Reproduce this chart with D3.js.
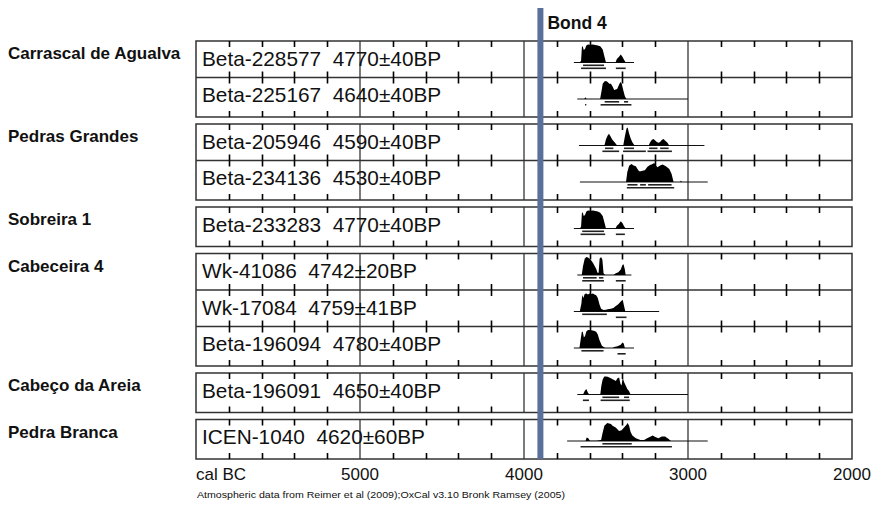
<!DOCTYPE html>
<html>
<head>
<meta charset="utf-8">
<script src="https://cdn.jsdelivr.net/npm/d3@7"></script>
<style>
  body { margin: 0; background: #fff; }
  svg text { font-family: "Liberation Sans", Arial, sans-serif; }
</style>
</head>
<body>
<div id="chart"></div>
<script>
// sites, one box each
const sites = ["Carrascal de Agualva", "Pedras Grandes", "Sobreira 1", "Cabeceira 4", "Cabeço da Areia", "Pedra Branca"];

// dated samples, in plot order
const labCodes = ["Beta-228577", "Beta-225167", "Beta-205946", "Beta-234136", "Beta-233283",
                  "Wk-41086", "Wk-17084", "Beta-196094", "Beta-196091", "ICEN-1040"];
const bpDates = ["4770±40BP", "4640±40BP", "4590±40BP", "4530±40BP", "4770±40BP",
                 "4742±20BP", "4759±41BP", "4780±40BP", "4650±40BP", "4620±60BP"];
const siteOf = [0, 0, 1, 1, 2, 3, 3, 3, 4, 5];

// thin line under each distribution (cal BC from, to)
const spans = [[3696, 3329], [3675, 3000], [3665, 2900], [3659, 2880], [3696, 3329],
               [3675, 3345], [3696, 3176], [3696, 3329], [3675, 3000], [3737, 2880]];

// calibrated probability, [cal BC, relative height]
const dens = [
  [[3660,0],[3652,0.1],[3647,0.85],[3642,0.92],[3636,0.7],[3628,0.75],[3620,0.95],[3610,1],[3595,0.98],[3580,1],[3565,0.97],[3550,0.95],[3535,0.9],[3520,0.72],[3510,0.35],[3500,0],
   [3442,0],[3434,0.2],[3422,0.3],[3410,0.45],[3400,0.32],[3390,0.15],[3380,0]],
  [[3632,0],[3626,0.1],[3618,0],[3536,0],[3528,0.4],[3520,0.85],[3510,0.97],[3500,1],[3490,0.95],[3480,0.85],[3470,0.85],[3460,0.7],[3450,0.5],[3432,0.55],[3420,0.8],[3412,0.95],[3404,0.85],[3395,0.5],[3385,0.15],[3375,0]],
  [[3510,0],[3500,0.35],[3490,0.55],[3482,0.65],[3472,0.5],[3460,0.3],[3445,0.15],[3432,0],[3395,0],[3385,0.5],[3375,0.95],[3368,1],[3360,0.7],[3350,0.4],[3340,0.2],[3330,0.05],[3325,0],
   [3240,0],[3230,0.2],[3220,0.32],[3210,0.36],[3200,0.28],[3190,0.2],[3180,0.15],[3170,0.2],[3160,0.3],[3150,0.36],[3140,0.28],[3125,0.15],[3115,0]],
  [[3378,0],[3370,0.55],[3359,0.9],[3345,1],[3332,0.92],[3318,0.87],[3308,0.72],[3298,0.6],[3288,0.6],[3278,0.62],[3263,0.65],[3247,0.85],[3232,0.95],[3222,0.97],[3206,1.05],[3196,0.92],[3186,0.82],[3170,0.92],[3155,0.97],[3135,0.88],[3114,0.72],[3100,0.45],[3088,0],
   [3048,0],[3043,0.08],[3038,0]],
  [[3660,0],[3652,0.1],[3647,0.85],[3642,0.9],[3636,0.7],[3628,0.75],[3620,0.95],[3610,1],[3595,0.98],[3580,1],[3565,0.97],[3550,0.95],[3535,0.88],[3520,0.7],[3510,0.35],[3500,0],
   [3442,0],[3434,0.15],[3422,0.25],[3410,0.4],[3400,0.3],[3390,0.12],[3380,0]],
  [[3648,0],[3640,0.5],[3630,0.9],[3620,1],[3610,0.97],[3600,0.9],[3590,0.8],[3580,0.68],[3570,0.52],[3560,0.35],[3552,0.12],[3545,0.12],[3539,0.9],[3530,1],[3522,0.85],[3515,0.1],[3505,0],
   [3455,0],[3440,0.1],[3425,0.15],[3410,0.3],[3400,0.55],[3393,0.6],[3385,0.3],[3380,0]],
  [[3660,0],[3650,0.45],[3645,0.92],[3638,0.75],[3630,0.97],[3620,1],[3610,0.95],[3600,1],[3590,0.97],[3580,1],[3570,0.95],[3560,0.9],[3550,0.75],[3540,0.4],[3530,0.15],[3515,0.08],[3500,0.1],[3490,0.12],[3470,0.15],[3455,0.2],[3440,0.3],[3425,0.4],[3410,0.55],[3398,0.65],[3390,0.3],[3382,0]],
  [[3662,0],[3655,0.45],[3648,0.88],[3642,0.92],[3635,0.6],[3628,0.65],[3620,0.92],[3610,1],[3600,1],[3590,0.98],[3580,0.97],[3570,0.95],[3560,0.9],[3550,0.75],[3540,0.45],[3525,0.12],[3505,0],
   [3460,0],[3450,0.05],[3430,0.1],[3410,0.18],[3400,0.3],[3392,0.25],[3385,0]],
  [[3640,0],[3630,0.2],[3620,0.3],[3610,0.1],[3602,0],[3535,0],[3528,0.5],[3520,0.85],[3510,1],[3500,1],[3490,0.98],[3480,0.95],[3470,0.9],[3460,0.85],[3450,0.8],[3440,0.75],[3430,0.9],[3420,0.95],[3412,0.6],[3405,0.5],[3398,0.95],[3390,0.7],[3380,0.5],[3370,0.3],[3360,0.2],[3350,0]],
  [[3625,0],[3618,0.2],[3608,0.15],[3598,0.02],[3560,0.02],[3530,0.05],[3522,0.4],[3510,0.85],[3492,1],[3470,0.95],[3460,0.85],[3441,0.75],[3420,0.55],[3405,0.6],[3390,0.75],[3375,0.9],[3368,1],[3359,0.85],[3350,0.5],[3339,0.3],[3318,0.15],[3290,0.05],[3267,0.05],[3255,0.12],[3240,0.2],[3215,0.3],[3200,0.22],[3180,0.15],[3160,0.25],[3140,0.25],[3120,0.12],[3104,0]]
];

// 68.2% and 95.4% ranges
const sigma1 = [
  [[3640, 3512]],
  [[3508, 3420], [3390, 3365]],
  [[3506, 3455], [3390, 3329], [3237, 3186], [3170, 3118]],
  [[3369, 3308], [3292, 3257], [3243, 3100]],
  [[3645, 3512]],
  [[3640, 3557], [3543, 3516]],
  [[3645, 3495]],
  [[3650, 3515]],
  [[3522, 3420], [3390, 3359]],
  [[3522, 3343]]
];
const sigma2 = [
  [[3652, 3500], [3440, 3380]],
  [[3628, 3620], [3533, 3345]],
  [[3522, 3420], [3396, 3257], [3247, 3098]],
  [[3373, 3084]],
  [[3655, 3505], [3440, 3385]],
  [[3645, 3512], [3440, 3380]],
  [[3440, 3375]],
  [[3430, 3380]],
  [[3641, 3604], [3533, 3355]],
  [[3655, 3098]]
];

const axisLabels = [5000, 4000, 3000, 2000];
const gridYears = [5000, 4000, 3000];
const tickYears = [5800, 5600, 5400, 5200, 4800, 4600, 4400, 4200, 3800, 3600, 3400, 3200, 2800, 2600, 2400, 2200];
const bondYear = 3900;
const bondName = "Bond 4";
const creditText = "Atmospheric data from Reimer et al (2009);OxCal v3.10 Bronk Ramsey (2005)";

const W = 877, H = 508;
const svg = d3.select("#chart").append("svg").attr("width", W).attr("height", H);

const x = d3.scaleLinear().domain([6000, 2000]).range([196, 852]);
const h = d3.scaleLinear().domain([0, 1]).range([0, 18]);

const rowH = 36.5, pad = 3, gap = 7, top0 = 41;

// work out where each box sits
let boxes = [], yy = top0;
sites.forEach((s, gi) => {
  const idx = siteOf.map((g, i) => g === gi ? i : -1).filter(i => i >= 0);
  const b = {name: s, top: yy, rows: idx};
  b.bottom = yy + idx.length * rowH + pad;
  boxes.push(b);
  yy = b.bottom + gap;
});
const rowTop = [];
boxes.forEach(b => b.rows.forEach((r, k) => rowTop[r] = b.top + k * rowH));

const ink = "#333";

boxes.forEach(b => {
  const g = svg.append("g");
  // grid lines
  g.selectAll(".grid").data(gridYears).enter().append("line")
    .attr("x1", d => x(d)).attr("x2", d => x(d))
    .attr("y1", b.top).attr("y2", b.bottom)
    .attr("stroke", "#444").attr("stroke-width", 1.4);

  g.append("rect").attr("x", x(6000)).attr("y", b.top)
    .attr("width", x(2000) - x(6000)).attr("height", b.bottom - b.top)
    .attr("fill", "none").attr("stroke", ink).attr("stroke-width", 1.5);

  b.rows.forEach((r, k) => {
    if (k > 0) {
      const t = b.top + k * rowH;
      g.append("line").attr("x1", x(6000)).attr("x2", x(2000))
        .attr("y1", t).attr("y2", t).attr("stroke", ink).attr("stroke-width", 1.5);
    }
  });

  svg.append("text").attr("x", 8).attr("y", b.top + 18)
    .attr("font-size", 17).attr("font-weight", "bold").attr("fill", "#111")
    .text(b.name);
});

// distributions
labCodes.forEach((code, i) => {
  const base = rowTop[i] + 21.5;
  const g = svg.append("g");
  g.append("line").attr("x1", x(spans[i][0])).attr("x2", x(spans[i][1]))
    .attr("y1", base).attr("y2", base).attr("stroke", "#111").attr("stroke-width", 1.1);
  const area = d3.area().x(d => x(d[0])).y0(base).y1(d => base - h(d[1]));
  g.append("path").datum(dens[i]).attr("d", area).attr("fill", "#000");
  g.selectAll(".s1").data(sigma1[i]).enter().append("line")
    .attr("x1", d => x(d[0])).attr("x2", d => x(d[1]))
    .attr("y1", base + 2.8).attr("y2", base + 2.8)
    .attr("stroke", "#222").attr("stroke-width", 1.6);
  g.selectAll(".s2").data(sigma2[i]).enter().append("line")
    .attr("x1", d => x(d[0])).attr("x2", d => x(d[1]))
    .attr("y1", base + 5.8).attr("y2", base + 5.8)
    .attr("stroke", "#222").attr("stroke-width", 1.6);

  svg.append("text").attr("x", 202).attr("y", rowTop[i] + 24.5)
    .attr("font-size", 20.8).attr("fill", "#111")
    .attr("xml:space", "preserve")
    .text(code + "  " + bpDates[i]);
});

// tick marks along every row edge, one path per edge, drawn on top
const tickRows = [];
boxes.forEach(b => b.rows.forEach((r, k) => {
  const t = b.top + k * rowH;
  tickRows.push({y: t, dir: 1});
  tickRows.push({y: k === b.rows.length - 1 ? b.bottom : t + rowH, dir: -1});
}));
svg.append("g").selectAll("path.tk").data(tickRows).enter().append("path")
  .attr("class", "tk")
  .attr("d", tr => {
    const p = d3.path();
    tickYears.forEach(yr => {
      const px = Math.round(x(yr)) + 0.5;
      p.moveTo(px, tr.y);
      p.lineTo(px, tr.y + tr.dir * 6);
    });
    return p.toString();
  })
  .attr("fill", "none").attr("stroke", "#000").attr("stroke-width", 1.6);

// Bond event
const last = boxes[boxes.length - 1];
svg.append("line").attr("x1", x(bondYear)).attr("x2", x(bondYear))
  .attr("y1", 8).attr("y2", last.bottom)
  .attr("stroke", "#59709a").attr("stroke-width", 6);
svg.append("text").attr("x", x(bondYear) + 7).attr("y", 29)
  .attr("font-size", 17.5).attr("font-weight", "bold").attr("fill", "#111")
  .text(bondName);

// axis labels
svg.append("text").attr("x", x(6000)).attr("y", last.bottom + 21)
  .attr("font-size", 17).attr("fill", "#111").text("cal BC");
svg.selectAll(".lab").data(axisLabels).enter().append("text")
  .attr("x", d => x(d)).attr("y", last.bottom + 21)
  .attr("text-anchor", "middle").attr("font-size", 17).attr("fill", "#111")
  .text(d => d);

svg.append("text").attr("x", 197).attr("y", 498)
  .attr("font-size", 9.5).attr("fill", "#111")
  .attr("textLength", 368).attr("lengthAdjust", "spacingAndGlyphs")
  .text(creditText);
</script>
</body>
</html>
